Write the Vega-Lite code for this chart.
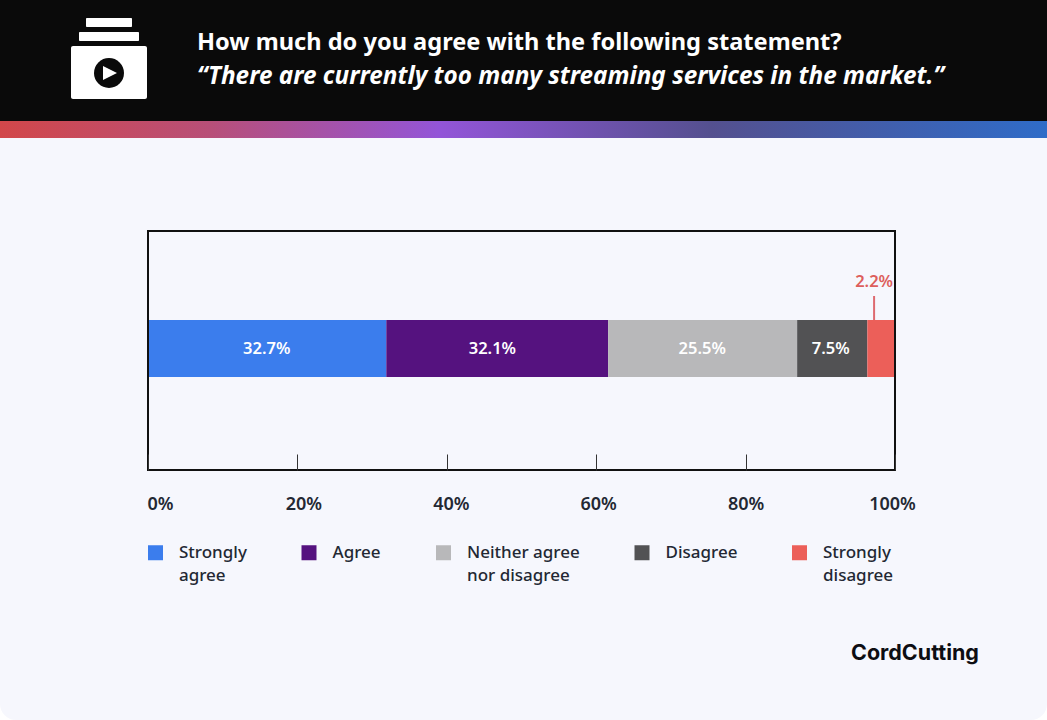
{
"$schema":"https://vega.github.io/schema/vega-lite/v6.json",
"width":747,"height":239,
"autosize":{"type":"none"},
"padding":{"left":148,"top":231,"right":152,"bottom":250},
"background":"#ffffff",
"config":{"font":"Noto Sans","view":{"stroke":null},"style":{"guide-label":{"lineHeight":23}}},
"title":{"text":"How much do you agree with the following statement?","subtitle":"“There are currently too many streaming services in the market.”","anchor":"start","frame":"group","dx":49,"offset":-89,"font":"Noto Sans","fontSize":23.6,"fontWeight":700,"color":"#ffffff","subtitleFont":"Noto Sans","subtitleFontSize":24.3,"subtitleFontWeight":700,"subtitleFontStyle":"italic","subtitleColor":"#ffffff","subtitlePadding":10},
"datasets":{
"responses":[
{"response":"Strongly agree","share":31.9,"label":"32.7%","labelAt":15.9,"order":1},
{"response":"Agree","share":29.7,"label":"32.1%","labelAt":46.1,"order":2},
{"response":"Neither agree nor disagree","share":25.3,"label":"25.5%","labelAt":74.2,"order":3},
{"response":"Disagree","share":9.4,"label":"7.5%","labelAt":91.4,"order":4},
{"response":"Strongly disagree","share":3.7,"label":"2.2%","labelAt":97.2,"order":5}
],
"one":[{}]
},
"layer":[
{"data":{"name":"one"},"mark":{"type":"rect","x":-148,"x2":899,"y":-93,"y2":489,"fill":"#f6f7fd","cornerRadiusBottomLeft":16,"cornerRadiusBottomRight":16,"clip":false},"encoding":{}},
{"data":{"name":"one"},"mark":{"type":"rect","x":-148,"x2":899,"y":-231,"y2":-110,"fill":"#0a0a0a"},"encoding":{}},
{"data":{"name":"one"},"mark":{"type":"rect","x":-148,"x2":899,"y":-110,"y2":-93,"fill":{"gradient":"linear","x1":0,"y1":0,"x2":1,"y2":0,"stops":[{"offset":0,"color":"#d2474a"},{"offset":0.2,"color":"#b84f78"},{"offset":0.42,"color":"#9355d8"},{"offset":0.68,"color":"#54508f"},{"offset":1,"color":"#2f6cc8"}]}},"encoding":{}},
{"data":{"name":"one"},"mark":{"type":"rect","x":-62,"x2":-16,"y":-213,"y2":-204,"fill":"#ffffff","cornerRadius":1},"encoding":{}},
{"data":{"name":"one"},"mark":{"type":"rect","x":-69,"x2":-9,"y":-199,"y2":-190,"fill":"#ffffff","cornerRadius":1},"encoding":{}},
{"data":{"name":"one"},"mark":{"type":"rect","x":-77,"x2":-1,"y":-185,"y2":-132,"fill":"#ffffff","cornerRadius":2},"encoding":{}},
{"data":{"name":"one"},"mark":{"type":"point","filled":true,"shape":"circle","x":-39,"y":-158,"size":900,"fill":"#0a0a0a","opacity":1,"stroke":null},"encoding":{}},
{"data":{"name":"one"},"mark":{"type":"point","filled":true,"shape":"M-1,-1L1,0L-1,1Z","x":-38,"y":-158,"size":196,"fill":"#ffffff","opacity":1,"stroke":null},"encoding":{}},
{"data":{"name":"responses"},"mark":{"type":"bar","size":57,"yOffset":-2},
 "encoding":{
  "x":{"field":"share","type":"quantitative","stack":"zero","scale":{"domain":[0,100],"nice":false},
   "axis":{"title":null,"values":[0,20,40,60,80,100],"labelExpr":"datum.value+'%'","grid":false,"domain":false,"zindex":1,"tickSize":-16,"tickWidth":1,"tickColor":"#333333","labelPadding":41,"labelFontSize":18,"labelFontWeight":600,"labelColor":"#232833","labelFlush":false,"labelBound":false,"labelOverlap":false,"labelOffset":{"expr":"datum.value===0?12:datum.value===20?6:datum.value===40?4:datum.value===60?2:datum.value===100?-3:0"}}},
  "color":{"field":"response","type":"nominal","sort":["Strongly agree","Agree","Neither agree nor disagree","Disagree","Strongly disagree"],
   "scale":{"domain":["Strongly agree","Agree","Neither agree nor disagree","Disagree","Strongly disagree"],"range":["#3b7ded","#55127f","#b8b8ba","#525254","#ec5f59"]},
   "legend":{"title":null,"orient":"none","legendX":-1,"legendY":313,"columns":5,"columnPadding":53.5,"symbolType":"square","symbolSize":225,"symbolStrokeWidth":0,"symbolOpacity":1,"labelFontSize":17,"labelFontWeight":500,"labelColor":"#232833","labelLimit":300,"labelOffset":15,"labelExpr":"datum.label==='Strongly agree'?['Strongly','agree']:datum.label==='Neither agree nor disagree'?['Neither agree','nor disagree']:datum.label==='Strongly disagree'?['Strongly','disagree']:[datum.label,'']"}},
  "order":{"field":"order","type":"quantitative"}
 }},
{"data":{"name":"responses"},"transform":[{"filter":"datum.order<5"}],"mark":{"type":"text","y":118,"color":"#ffffff","fontSize":16.5,"fontWeight":600},"encoding":{"x":{"field":"labelAt","type":"quantitative"},"text":{"field":"label"}}},
{"data":{"name":"responses"},"transform":[{"filter":"datum.order===5"}],"mark":{"type":"text","y":51,"color":"#dd5f5c","fontSize":16.5,"fontWeight":600},"encoding":{"x":{"field":"labelAt","type":"quantitative"},"text":{"field":"label"}}},
{"data":{"name":"responses"},"transform":[{"filter":"datum.order===5"}],"mark":{"type":"rule","y":65,"y2":89,"color":"#dd6a70","strokeWidth":2},"encoding":{"x":{"field":"labelAt","type":"quantitative"}}},
{"data":{"name":"one"},"mark":{"type":"rect","x":0,"x2":747,"y":0,"y2":239,"fill":null,"stroke":"#111111","strokeWidth":2},"encoding":{}},
{"data":{"name":"one"},"mark":{"type":"text","x":703,"y":423,"text":"CordCutting","align":"left","baseline":"middle","font":"Inter","fontSize":21.5,"fontWeight":700,"color":"#0d0d12"},"encoding":{}}
]
}
